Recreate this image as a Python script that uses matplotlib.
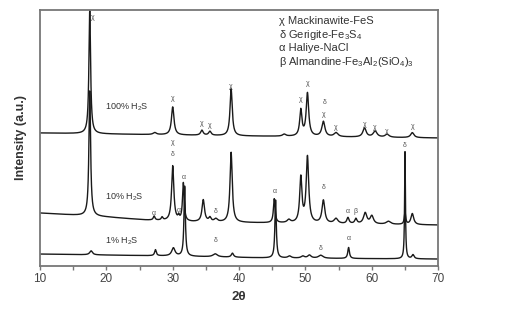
import numpy as np
import matplotlib
matplotlib.use("Agg")
import matplotlib.pyplot as plt

plt.rcParams['font.family'] = ['Liberation Sans', 'DejaVu Sans']
plt.rcParams['mathtext.fontset'] = 'custom'
plt.rcParams['mathtext.rm'] = 'Liberation Sans'
plt.rcParams['mathtext.it'] = 'Liberation Sans:italic'
plt.rcParams['mathtext.bf'] = 'Liberation Sans:bold'
plt.rcParams['mathtext.default'] = 'regular'

# ---- data (intensity in arbitrary units) ----
# baselines: knots (2theta, intensity)
base_100_x = [10, 40, 70]
base_100_y = [133, 130, 128]
base_10_x = [10, 20, 26, 33, 45, 55, 70]
base_10_y = [53, 49, 46, 44, 43, 42, 41]
base_1_x = [10, 30, 45, 70]
base_1_y = [12, 10, 8, 7]

# peaks: position, height above baseline, FWHM
pk_100_pos = [17.5, 27.3, 30.0, 34.4, 35.6, 38.8, 46.8, 49.3, 50.3, 52.7, 54.6, 58.9, 60.5, 62.3, 66.1]
pk_100_h = [123, 2, 28, 5, 4, 47, 2, 26, 43, 15, 4, 9, 6, 3, 5]
pk_100_w = [0.30, 0.6, 0.45, 0.45, 0.45, 0.40, 0.6, 0.40, 0.45, 0.55, 0.7, 0.6, 0.7, 0.7, 0.6]

pk_10_pos = [17.5, 27.2, 28.4, 30.0, 30.9, 31.6, 34.6, 35.6, 36.5, 38.8, 45.3, 47.5,
             49.3, 50.3, 52.7, 54.6, 56.4, 57.6, 59.0, 60.0, 62.5, 65.0, 66.1]
pk_10_h = [125, 4, 3, 55, 4, 38, 22, 4, 3, 70, 24, 3,
           45, 66, 23, 5, 6, 5, 11, 8, 3, 12, 11]
pk_10_w = [0.30, 0.3, 0.3, 0.40, 0.25, 0.30, 0.45, 0.4, 0.6, 0.40, 0.30, 0.6,
           0.40, 0.45, 0.50, 0.7, 0.4, 0.4, 0.6, 0.6, 0.8, 0.25, 0.5]

pk_1_pos = [17.7, 27.4, 30.1, 31.8, 36.4, 39.0, 45.5, 47.6, 49.6, 50.6, 52.3, 56.5, 65.0, 66.2]
pk_1_h = [4, 6, 8, 70, 3, 4, 58, 2, 2, 3, 3, 11, 107, 4]
pk_1_w = [0.5, 0.3, 0.6, 0.25, 0.8, 0.4, 0.25, 0.6, 0.6, 0.6, 0.8, 0.3, 0.15, 0.4]

# phase labels: 2theta, height, symbol
lab_x = [18.0, 30.0, 34.4, 35.6, 38.8, 49.3, 50.4, 52.9, 52.7, 54.6, 58.9, 60.5, 62.3, 66.1,
         30.0, 30.0, 27.2, 30.9, 31.6, 36.5, 45.3, 52.8, 56.4, 57.6, 65.0,
         36.4, 52.3, 56.5]
lab_y = [248, 167, 142, 140, 179, 166, 182, 163, 151, 138, 141, 138, 134, 139,
         123, 111, 53, 56, 88, 55, 75, 78, 55, 55, 120,
         26, 18, 28]
lab_s = ['χ', 'χ', 'χ', 'χ', 'χ', 'χ', 'χ', 'δ', 'χ', 'χ', 'χ', 'χ', 'χ', 'χ',
         'χ', 'δ', 'α', 'α', 'α', 'δ', 'α', 'δ', 'α', 'β', 'δ',
         'δ', 'δ', 'α']

legend_lines = ['χ Mackinawite-FeS', 'δ Gerigite-Fe$_3$S$_4$', 'α Haliye-NaCl',
                'β Almandine-Fe$_3$Al$_2$(SiO$_4$)$_3$']
sample_names = ['100% H$_2$S', '10% H$_2$S', '1% H$_2$S']
sample_pos = [(19.8, 159), (19.8, 69), (19.8, 25)]

tt = np.linspace(10, 70, 6000)


def pattern(bx, by, pos, h, w):
    y = np.interp(tt, bx, by)
    for p, a, fw in zip(pos, h, w):
        g = (fw / 2) ** 2
        y = y + a * g / ((tt - p) ** 2 + g)
    return y


fig = plt.figure(figsize=(5.06, 3.09), dpi=100)
ax = fig.add_axes([0.079, 0.139, 0.787, 0.829])

for bx, by, pos, h, w in [(base_100_x, base_100_y, pk_100_pos, pk_100_h, pk_100_w),
                          (base_10_x, base_10_y, pk_10_pos, pk_10_h, pk_10_w),
                          (base_1_x, base_1_y, pk_1_pos, pk_1_h, pk_1_w)]:
    ax.plot(tt, pattern(bx, by, pos, h, w), color='#1a1a1a', lw=1.0)

for x, y, s in zip(lab_x, lab_y, lab_s):
    ax.text(x, y, s, fontsize=5, color='#555555', ha='center', va='center')

for name, (x, y) in zip(sample_names, sample_pos):
    ax.text(x, y, name, fontsize=6.5, color='#333333', ha='left', va='center')

for i, line in enumerate(legend_lines):
    ax.text(46.0, 245 - 13.7 * i, line, fontsize=8, color='#333333', ha='left', va='center')

ax.set_xlim(10, 70)
ax.set_ylim(0, 256)
ax.set_xticks(np.arange(10, 71, 10))
ax.set_xticks(np.arange(15, 70, 10), minor=True)
ax.set_yticks([])
ax.tick_params(axis='x', which='both', direction='out', length=3, width=1, color='#777777',
               labelsize=8.5, labelcolor='#444444', pad=2)
for sp in ax.spines.values():
    sp.set_color('#777777')
    sp.set_linewidth(1.3)
ax.set_xlabel('2θ', fontsize=9.5, fontweight='bold', color='#333333', labelpad=4)
ax.set_ylabel('Intensity (a.u.)', fontsize=9, fontweight='bold', color='#333333', labelpad=9)

fig.savefig('out.png', dpi=100)
